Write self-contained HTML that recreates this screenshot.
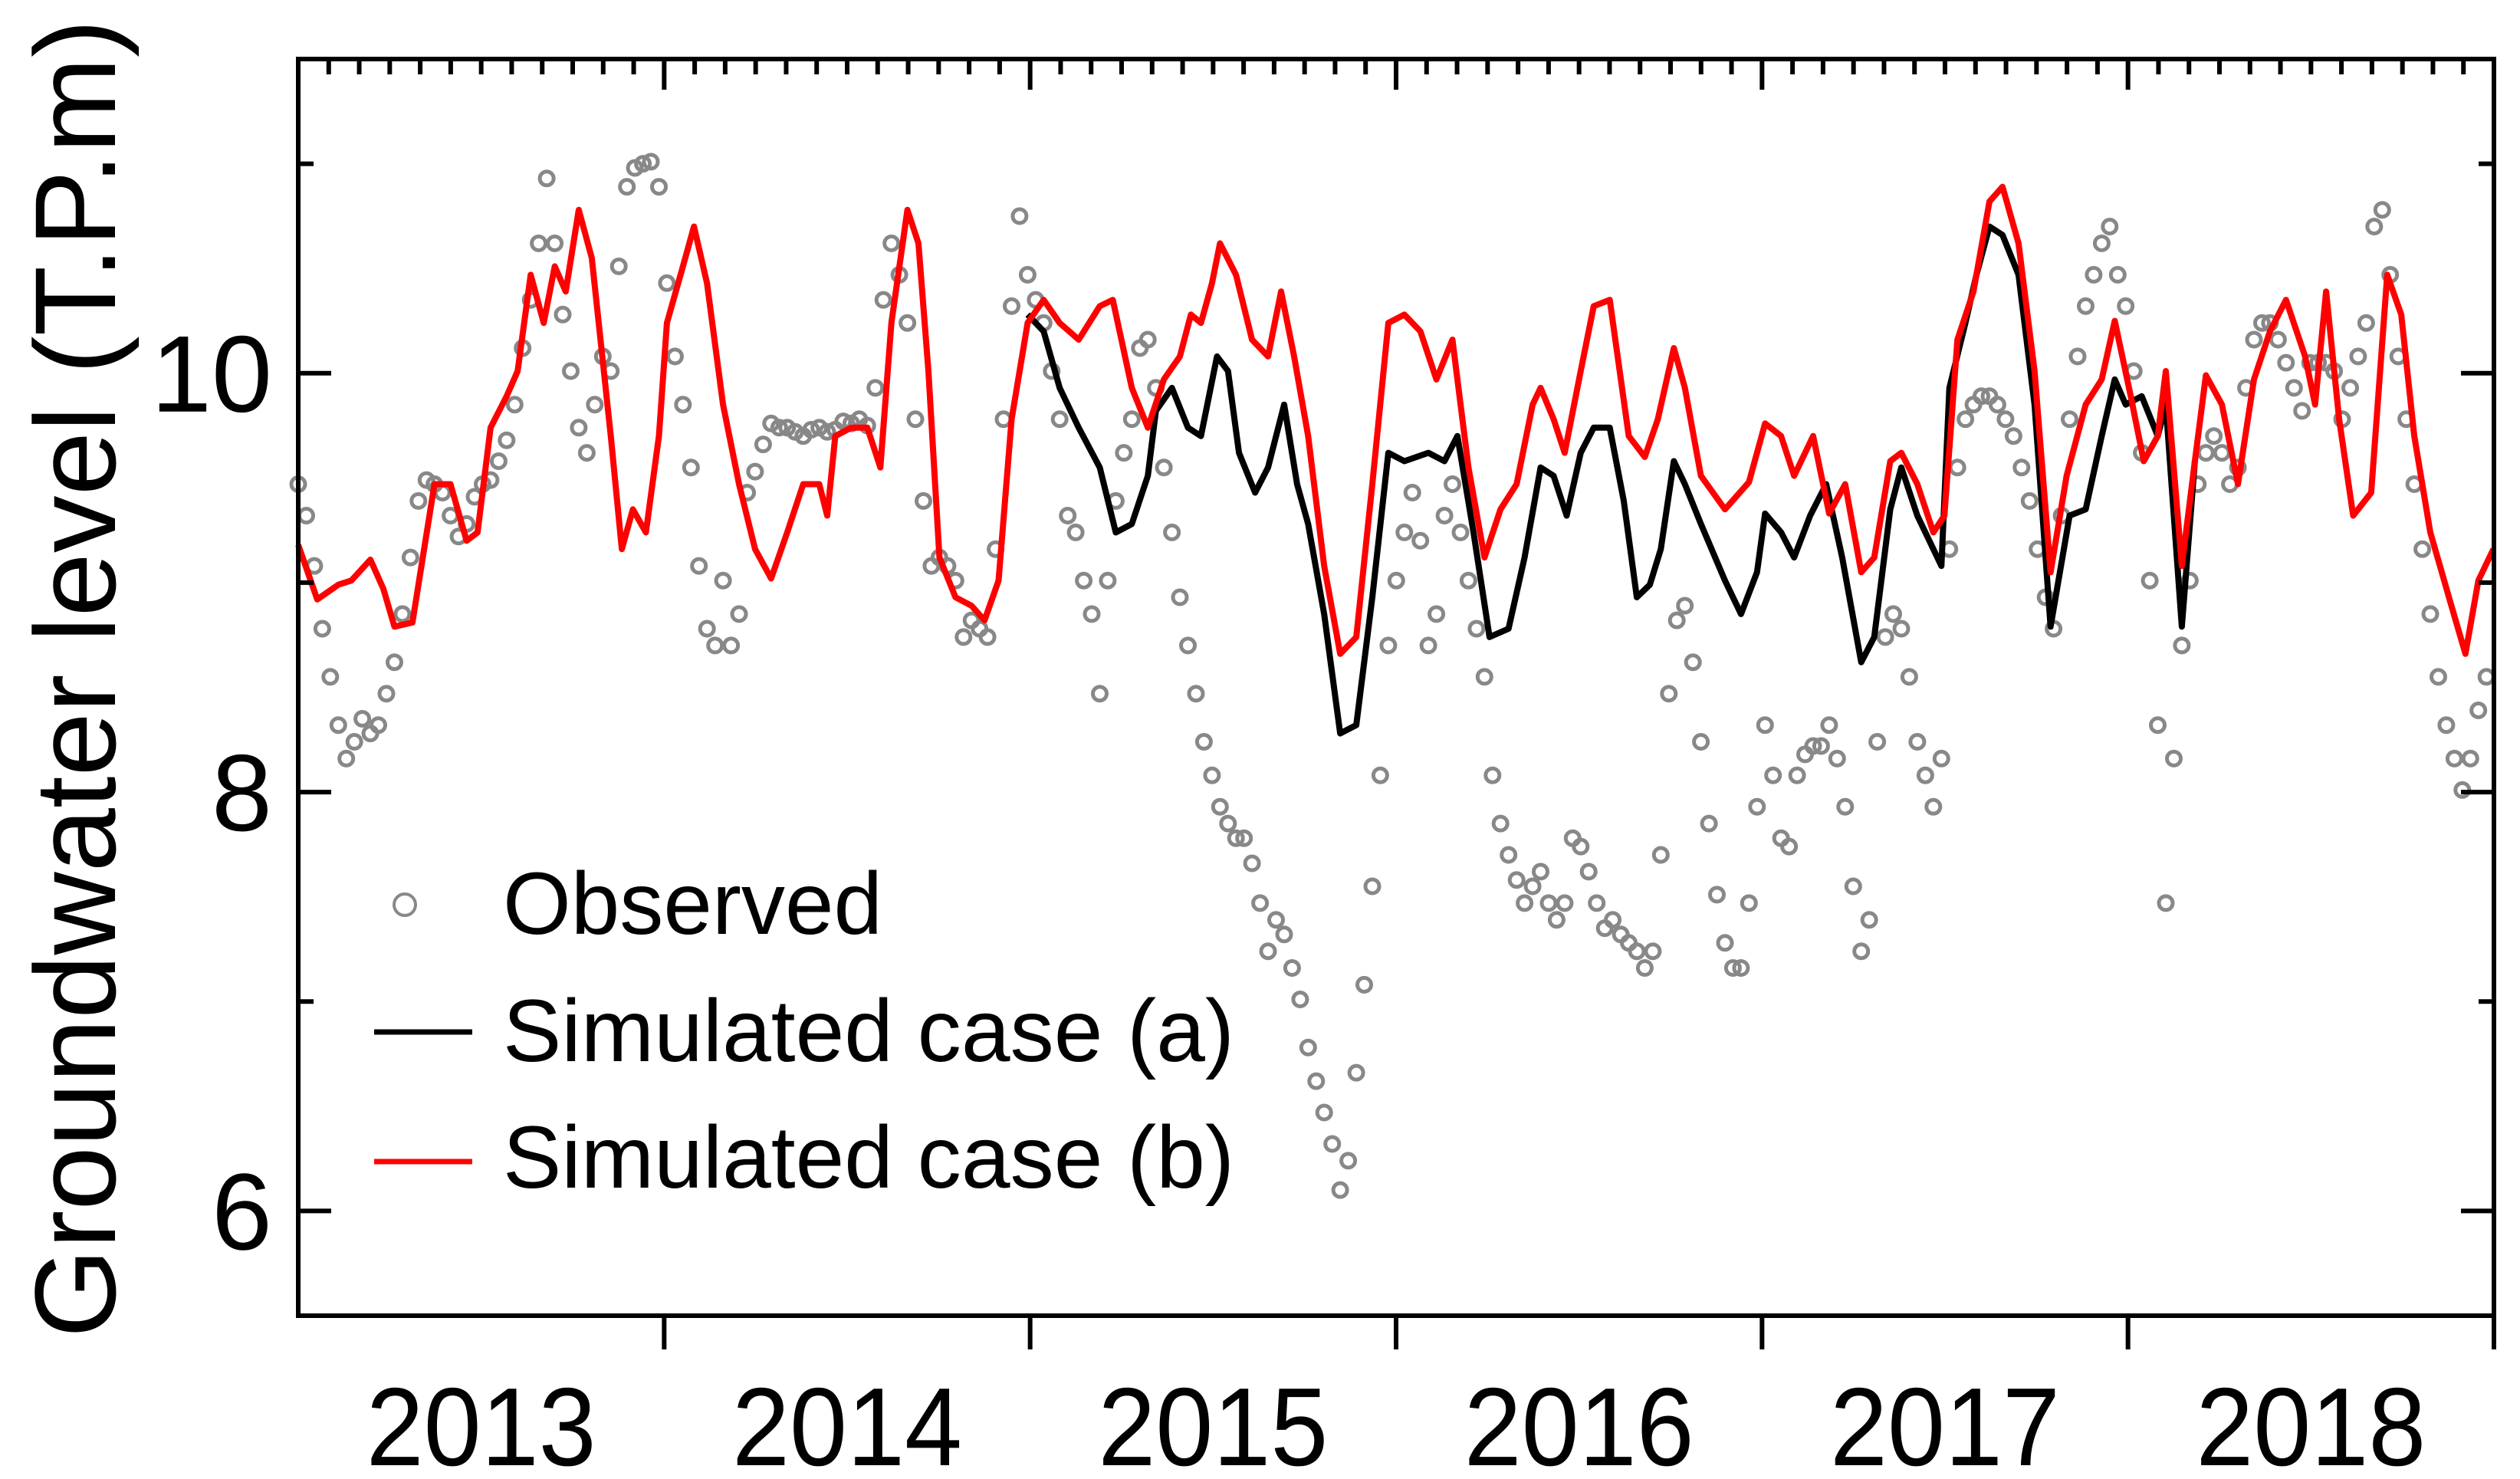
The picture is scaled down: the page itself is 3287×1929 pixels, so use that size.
<!DOCTYPE html>
<html><head><meta charset="utf-8"><style>
html,body{margin:0;padding:0;background:#fff}
svg{display:block}
text{font-family:"Liberation Sans",Arial,sans-serif;fill:#000}
</style></head><body>
<svg id="chart" width="3287" height="1929" viewBox="0 0 3287 1929" xmlns="http://www.w3.org/2000/svg">
<g id="plot"></g>
<g id="axes"></g>
<text transform="translate(150,885) rotate(-90)" text-anchor="middle" font-size="150" textLength="1720" lengthAdjust="spacingAndGlyphs">Groundwater level (T.P.m)</text>
<g>
<g>
<circle cx="528" cy="1180" r="14" fill="none" stroke="#888" stroke-width="4"/>
<text x="656" y="1218" font-size="115" textLength="495" lengthAdjust="spacingAndGlyphs">Observed</text>
</g>
<g>
<line x1="488" y1="1346" x2="616" y2="1346" stroke="#000" stroke-width="7"/>
<text x="656" y="1384" font-size="115" textLength="954" lengthAdjust="spacingAndGlyphs">Simulated case (a)</text>
</g>
<g>
<line x1="488" y1="1515" x2="616" y2="1515" stroke="#f00" stroke-width="7"/>
<text x="656" y="1549" font-size="115" textLength="954" lengthAdjust="spacingAndGlyphs">Simulated case (b)</text>
</g>
</g>
</svg>
<script>
// ---- data ----
const yearLabels = ["2013","2014","2015","2016","2017","2018"];
const yTickValues = [6,8,10];
const obsStepDays = 8;
const observedValues = [9.47,9.32,9.08,8.78,8.55,8.32,8.16,8.24,8.35,8.28,8.32,8.47,8.62,8.85,9.12,9.39,9.49,9.47,9.43,9.32,9.22,9.28,9.41,9.47,9.49,9.58,9.68,9.85,10.12,10.35,10.62,10.93,10.62,10.28,10.01,9.74,9.62,9.85,10.08,10.01,10.51,10.89,10.98,11.00,11.01,10.89,10.43,10.08,9.85,9.55,9.08,8.78,8.70,9.01,8.70,8.85,9.43,9.53,9.66,9.76,9.74,9.74,9.72,9.70,9.73,9.74,9.72,9.73,9.77,9.76,9.78,9.75,9.93,10.35,10.62,10.47,10.24,9.78,9.39,9.08,9.12,9.08,9.01,8.74,8.82,8.78,8.74,9.16,9.78,10.32,10.75,10.47,10.35,10.24,10.01,9.78,9.32,9.24,9.01,8.85,8.47,9.01,9.39,9.62,9.78,10.12,10.16,9.93,9.55,9.24,8.93,8.70,8.47,8.24,8.08,7.93,7.85,7.78,7.78,7.66,7.47,7.24,7.39,7.32,7.16,7.01,6.78,6.62,6.47,6.32,6.10,6.24,6.66,7.08,7.55,8.08,8.70,9.01,9.24,9.43,9.20,8.70,8.85,9.32,9.47,9.24,9.01,8.78,8.55,8.08,7.85,7.70,7.58,7.47,7.55,7.62,7.47,7.39,7.47,7.78,7.74,7.62,7.47,7.35,7.39,7.32,7.28,7.24,7.16,7.24,7.70,8.47,8.82,8.89,8.62,8.24,7.85,7.51,7.28,7.16,7.16,7.47,7.93,8.32,8.08,7.78,7.74,8.08,8.18,8.22,8.22,8.32,8.16,7.93,7.55,7.24,7.39,8.24,8.74,8.85,8.78,8.55,8.24,8.08,7.93,8.16,9.16,9.55,9.78,9.85,9.89,9.89,9.85,9.78,9.70,9.55,9.39,9.16,8.93,8.78,9.32,9.78,10.08,10.32,10.47,10.62,10.70,10.47,10.32,10.01,9.62,9.01,8.32,7.47,8.16,8.70,9.01,9.47,9.62,9.70,9.62,9.47,9.55,9.93,10.16,10.24,10.24,10.16,10.05,9.93,9.82,10.05,10.05,10.05,10.01,9.78,9.93,10.08,10.24,10.70,10.78,10.47,10.08,9.78,9.47,9.16,8.85,8.55,8.32,8.16,8.01,8.16,8.39,8.55];
const caseBDays = [0,19,40,53,72,85,96,114,123,136,152,168,179,192,208,219,232,245,256,267,280,293,312,323,334,347,360,368,384,395,408,424,440,456,472,488,504,520,528,536,552,568,581,592,608,619,629,640,656,672,685,699,712,728,744,760,779,800,813,832,848,864,880,891,901,912,920,936,952,968,981,994,1008,1024,1040,1056,1072,1088,1104,1120,1136,1152,1168,1184,1200,1216,1232,1240,1253,1264,1280,1293,1309,1328,1344,1357,1373,1384,1400,1424,1448,1464,1480,1493,1512,1528,1544,1560,1573,1589,1600,1616,1632,1643,1656,1672,1688,1701,1717,1733,1749,1765,1784,1800,1813,1829,1842,1856,1864,1880,1893,1904,1920,1936,1952,1968,1984,2003,2013,2024,2037,2051,2069,2085,2099,2112,2128,2149,2163,2176,2191];
const caseBValues = [9.18,8.92,8.99,9.01,9.11,8.97,8.79,8.81,9.08,9.47,9.47,9.20,9.24,9.74,9.89,10.01,10.47,10.24,10.51,10.39,10.78,10.55,9.70,9.16,9.35,9.24,9.70,10.24,10.51,10.70,10.43,9.85,9.47,9.16,9.02,9.24,9.47,9.47,9.32,9.70,9.74,9.74,9.55,10.24,10.78,10.62,10.01,9.12,8.93,8.89,8.82,9.01,9.78,10.24,10.35,10.24,10.16,10.32,10.35,9.93,9.74,9.97,10.08,10.28,10.24,10.43,10.62,10.47,10.16,10.08,10.39,10.08,9.70,9.08,8.66,8.74,9.47,10.24,10.28,10.20,9.97,10.16,9.55,9.12,9.35,9.47,9.85,9.93,9.78,9.62,10.01,10.32,10.35,9.70,9.60,9.78,10.12,9.93,9.51,9.35,9.48,9.76,9.70,9.51,9.70,9.33,9.47,9.05,9.12,9.58,9.62,9.47,9.24,9.32,10.16,10.39,10.82,10.89,10.62,10.01,9.05,9.51,9.85,9.97,10.25,9.89,9.58,9.70,10.01,9.08,9.58,9.99,9.85,9.47,9.97,10.20,10.35,10.08,9.85,10.39,9.78,9.32,9.43,10.47,10.28,9.70,9.24,8.89,8.66,9.01,9.16];
const caseADays = [728,744,760,779,800,816,832,848,856,872,888,901,917,928,939,955,968,984,997,1008,1024,1040,1056,1072,1088,1104,1128,1144,1157,1173,1189,1208,1224,1240,1253,1266,1280,1293,1309,1323,1336,1349,1360,1373,1384,1400,1424,1440,1456,1464,1480,1493,1509,1525,1541,1560,1573,1589,1600,1616,1632,1640,1648,1664,1675,1688,1701,1717,1733,1749,1768,1784,1800,1813,1824,1840,1856,1864,1880,1893];
const caseAValues = [10.28,10.20,9.93,9.74,9.55,9.24,9.28,9.51,9.82,9.93,9.74,9.70,10.08,10.01,9.62,9.43,9.55,9.85,9.47,9.28,8.85,8.28,8.32,8.93,9.62,9.58,9.62,9.58,9.70,9.24,8.74,8.78,9.12,9.55,9.51,9.32,9.62,9.74,9.74,9.39,8.93,8.99,9.16,9.58,9.47,9.28,9.01,8.85,9.05,9.33,9.24,9.12,9.32,9.47,9.12,8.62,8.74,9.35,9.55,9.32,9.16,9.08,9.93,10.24,10.47,10.70,10.66,10.47,9.85,8.79,9.32,9.35,9.70,9.97,9.85,9.89,9.70,9.85,8.79,9.58];

// ---- scales ----
const L=389,R=3253,T=77,B=1716;
const X0=0,X1=2191.5,Y0=5.5,Y1=11.5;
const DAYS_PER_YEAR=365.25;
function sx(d){return L+(d-X0)/(X1-X0)*(R-L);}
function sy(v){return B-(v-Y0)/(Y1-Y0)*(B-T);}
const NS="http://www.w3.org/2000/svg";
function mk(tag,attrs,parent){const e=document.createElementNS(NS,tag);for(const k in attrs)e.setAttribute(k,attrs[k]);parent.appendChild(e);return e;}

const plot=document.getElementById('plot');
const axes=document.getElementById('axes');

// observed
const obsG=mk('g',{},plot);


observedValues.forEach((v,i)=>{
  const c=mk('circle',{cx:sx(i*obsStepDays).toFixed(1),cy:sy(v).toFixed(1),r:9,fill:'none',stroke:'#888','stroke-width':5},obsG);
  
  
});
function pathOf(days,vals){return days.map((d,i)=>(i?'L':'M')+sx(d).toFixed(1)+' '+sy(vals[i]).toFixed(1)).join(' ');}
const la=mk('path',{d:pathOf(caseADays,caseAValues),fill:'none',stroke:'#000','stroke-width':8,'stroke-linejoin':'round'},plot);


const lb=mk('path',{d:pathOf(caseBDays,caseBValues),fill:'none',stroke:'#f00','stroke-width':8,'stroke-linejoin':'round'},plot);



// frame
const fr=mk('rect',{x:L,y:T,width:R-L,height:B-T,fill:'none',stroke:'#000','stroke-width':6},axes);



// y ticks
for(let v=6;v<=11;v++){
  const major=(v%2===0);const len=major?43:20;const y=sy(v);
  mk('line',{x1:L,y1:y,x2:L+len,y2:y,stroke:'#000','stroke-width':6},axes);
  mk('line',{x1:R,y1:y,x2:R-len,y2:y,stroke:'#000','stroke-width':6},axes);
}
yTickValues.forEach(v=>{
  const t=mk('text',{x:355,y:sy(v)+50,'text-anchor':'end','font-size':142},axes);
  t.textContent=String(v);
  
  
});
// x ticks
const nYears=yearLabels.length;
for(let m=1;m<nYears*12;m++){
  const d=m/12*DAYS_PER_YEAR;const x=sx(d);const major=(m%12===0);
  mk('line',{x1:x,y1:T,x2:x,y2:T+(major?40:20),stroke:'#000','stroke-width':6},axes);
}
for(let k=1;k<=nYears;k++){
  const x=sx(k*DAYS_PER_YEAR);
  mk('line',{x1:x,y1:B,x2:x,y2:B+44,stroke:'#000','stroke-width':6},axes);
}
yearLabels.forEach((lab,k)=>{
  const x=sx((k+0.5)*DAYS_PER_YEAR);
  const t=mk('text',{x:x,y:1911,'text-anchor':'middle','font-size':145,textLength:300,lengthAdjust:'spacingAndGlyphs'},axes);
  t.textContent=lab;
  
  
});
</script>
</body></html>
